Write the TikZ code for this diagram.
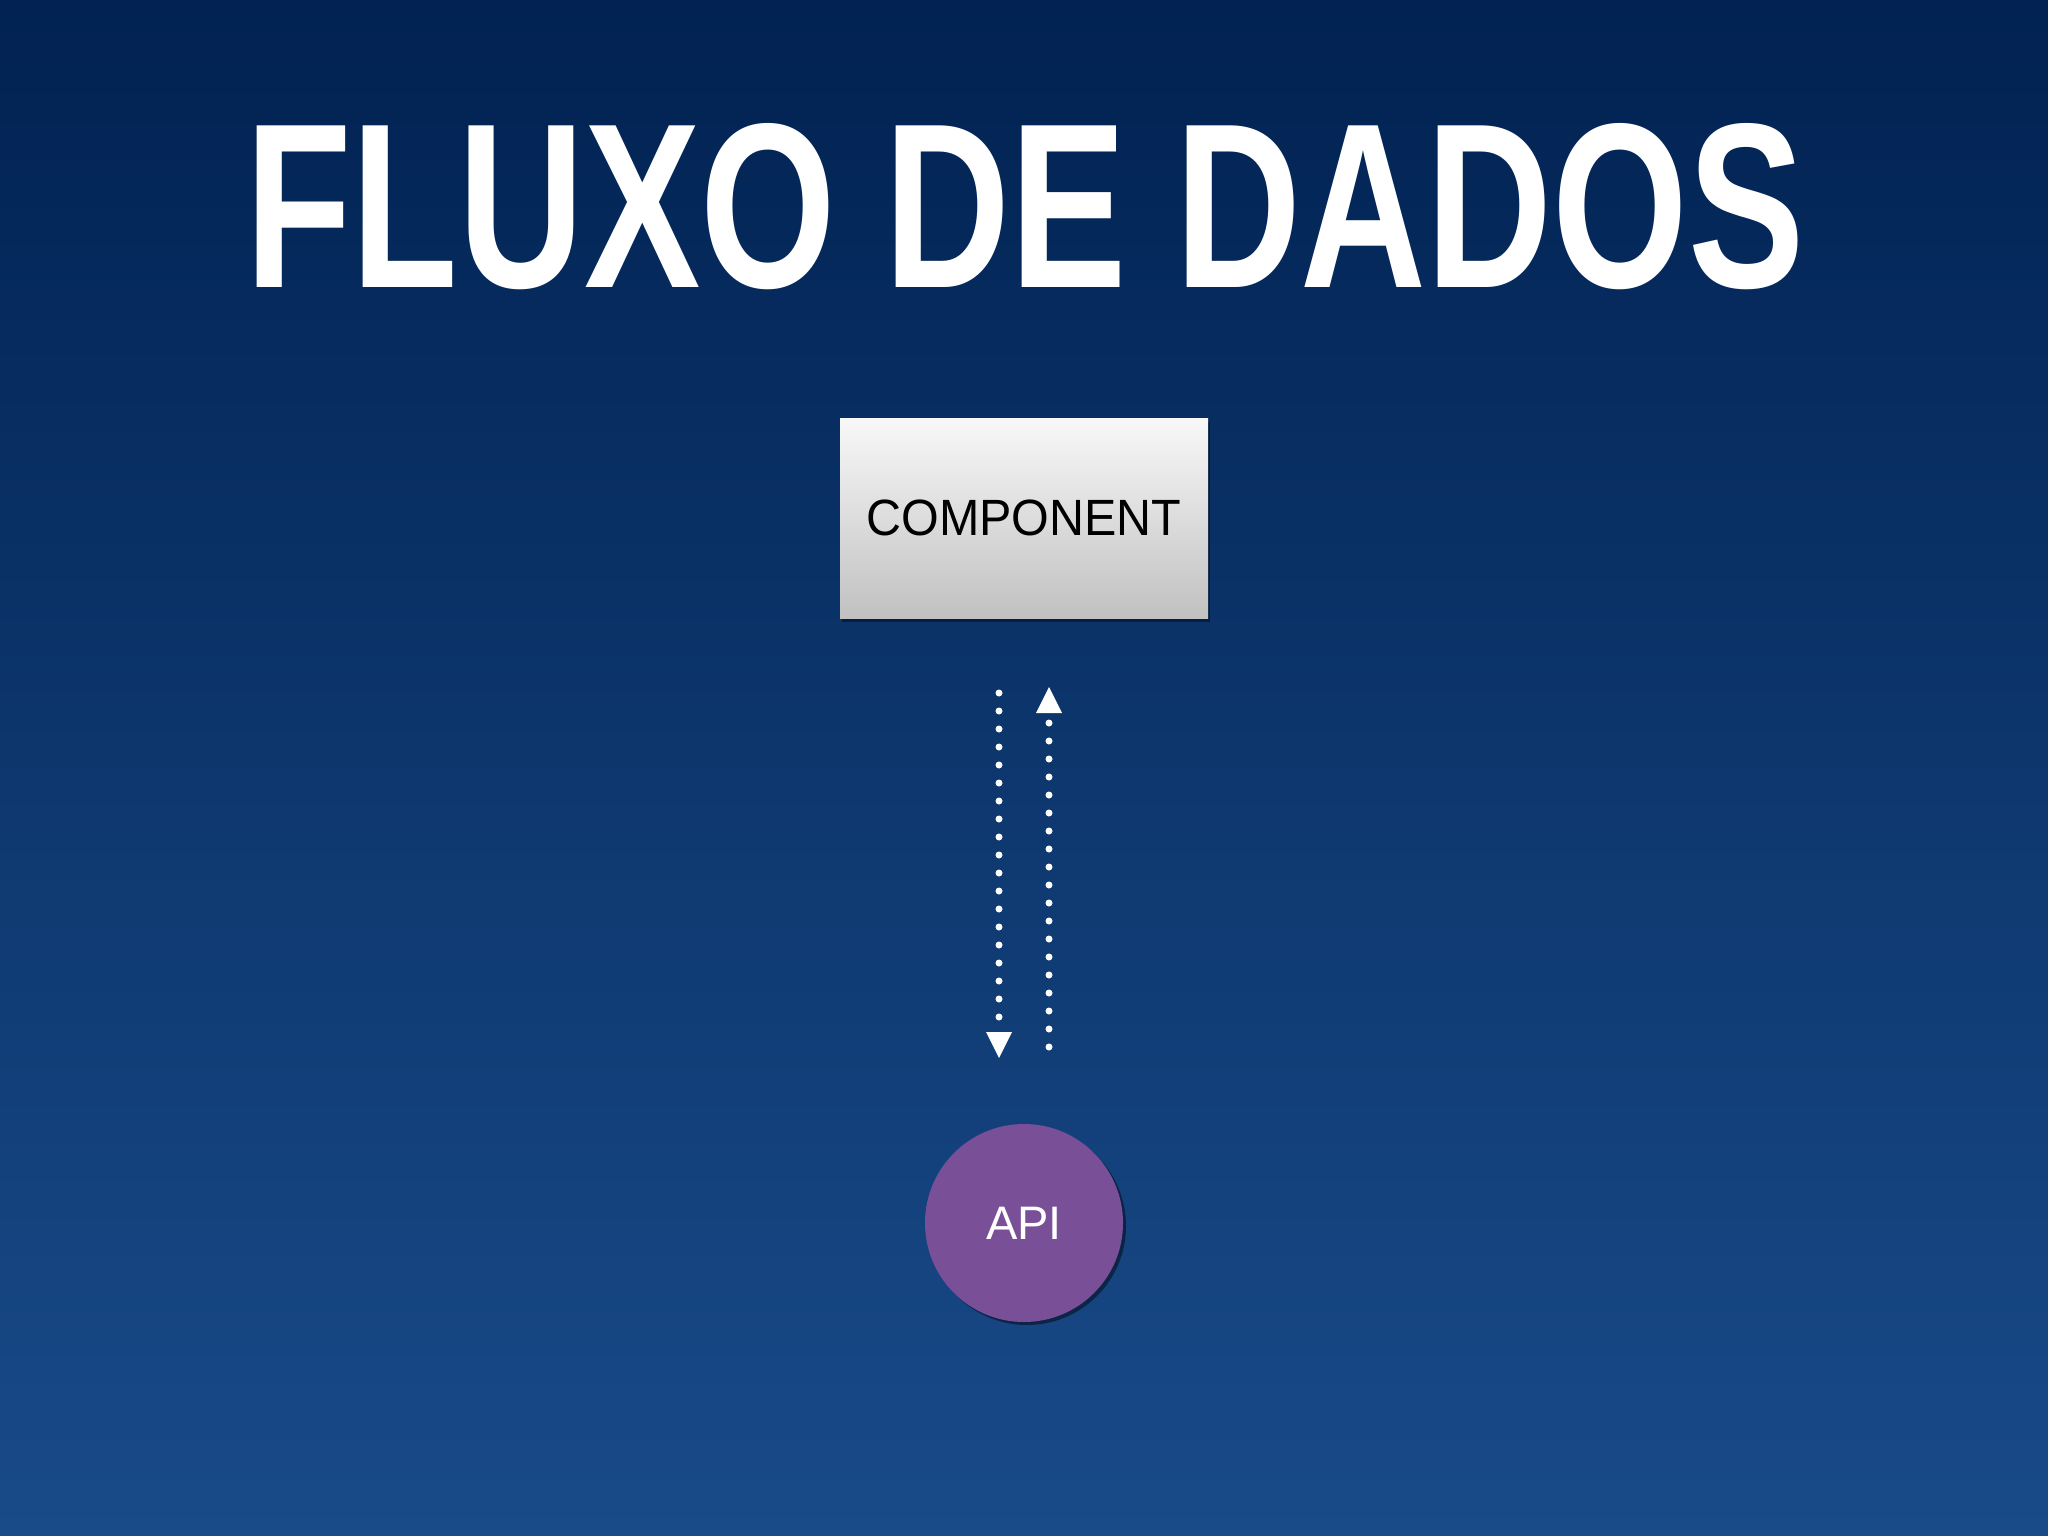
\documentclass[tikz,border=0pt]{standalone}
\usepackage{fontspec}
\setmainfont{Liberation Sans}
\newfontfamily\titlefont[FakeStretch=0.742]{Liberation Sans}
\newfontfamily\boxfont[FakeStretch=0.95]{Liberation Sans}
\usetikzlibrary{arrows.meta,shadows}
\definecolor{bgtop}{RGB}{1,34,82}
\definecolor{bgbot}{RGB}{25,75,137}
\definecolor{boxtop}{RGB}{248,248,248}
\definecolor{boxbot}{RGB}{193,193,193}
\definecolor{apipurple}{RGB}{121,80,152}
\tikzset{
  compbox/.style={rectangle, minimum width=368pt, minimum height=200pt, inner sep=0pt,
    top color=boxtop, bottom color=boxbot,
    drop shadow={shadow xshift=2pt, shadow yshift=-4pt, opacity=0.4, fill=black},
    font=\boxfont\fontsize{51}{51}\selectfont, text=black},
  apinode/.style={circle, minimum size=198pt, inner sep=0pt, fill=apipurple,
    drop shadow={shadow xshift=3pt, shadow yshift=-3pt, opacity=0.45, fill=black},
    font=\fontsize{47}{47}\selectfont, text=white},
  titletext/.style={anchor=base, text=white, inner sep=0pt,
    font=\titlefont\bfseries\fontsize{235}{235}\selectfont},
  dotarrow/.style={white, line width=7pt, line cap=round, dash pattern=on 0pt off 18pt,
    -{Triangle[width=26pt,length=26pt,line width=0pt]}}
}
\begin{document}
\begin{tikzpicture}[x=1pt,y=-1pt]
\useasboundingbox (0,0) rectangle (2048,1536);
\shade[top color=bgtop, bottom color=bgbot] (0,0) rectangle (2048,1536);
\node[titletext] (title) at (1025,287) {FLUXO DE DADOS};
\node[compbox] (comp) at (1024,518) {COMPONENT};
\node[apinode] (api) at (1024,1223) {API};
\coordinate (d1) at (999,693);
\coordinate (d2) at (999,1058);
\coordinate (u1) at (1049,1047);
\coordinate (u2) at (1049,687);
\draw[dotarrow] (d1) -- (d2);
\draw[dotarrow] (u1) -- (u2);
\end{tikzpicture}
\end{document}
